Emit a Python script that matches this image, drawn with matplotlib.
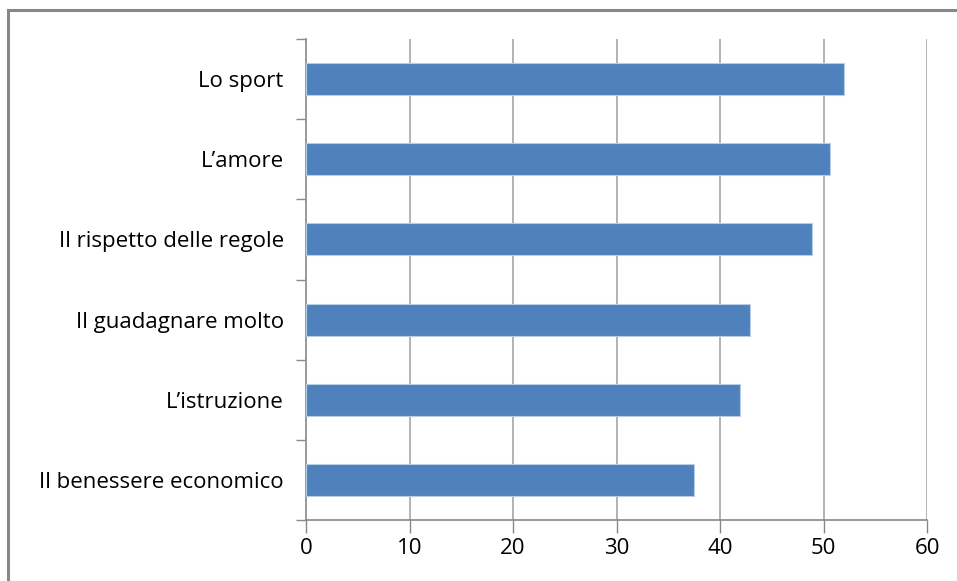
import matplotlib.pyplot as plt
import numpy as np
from matplotlib.patches import Rectangle

categories = ["Il benessere economico", "L\u2019istruzione", "Il guadagnare molto",
              "Il rispetto delle regole", "L\u2019amore", "Lo sport"]
values = [37.5, 41.9, 42.9, 48.9, 50.6, 52.0]
xticks = [0, 10, 20, 30, 40, 50, 60]

plt.rcParams['font.family'] = ['Open Sans', 'DejaVu Sans']

fig = plt.figure(figsize=(9.57, 5.81), dpi=100)
ax = fig.add_axes([306/957, 1-520/581, (927-306)/957, (520-39)/581])

# outer chart border (cropped on right/bottom)
fig.patches.append(Rectangle((8/957, -0.1), 1.2, 1-10/581+0.1, transform=fig.transFigure,
                             fill=False, edgecolor='#878787', linewidth=2.2))

y = np.arange(len(categories))
ax.barh(y, values, height=0.4, color='#4F81BD', edgecolor='#b9cde5', linewidth=0.8, zorder=3)

ax.set_xlim(0, 60)
ax.set_ylim(-0.5, len(categories)-0.5)
ax.set_xticks(xticks)
ax.set_xticklabels([str(t) for t in xticks], fontsize=16)
ax.set_yticks(y)
ax.set_yticklabels(categories, fontsize=16)
ax.set_yticks(np.arange(-0.5, len(categories)), minor=True)
ax.tick_params(axis='y', which='major', length=0, pad=16)
ax.tick_params(axis='y', which='minor', length=7, width=1, color='#888888', direction='out')
ax.tick_params(axis='x', length=9, width=1, color='#888888', pad=4)

for t in xticks[1:]:
    ax.axvline(t, color='#a6a6a6', linewidth=1.2, zorder=1)

for s in ['top', 'right']:
    ax.spines[s].set_visible(False)
for s in ['left', 'bottom']:
    ax.spines[s].set_color('#888888')
    ax.spines[s].set_linewidth(1.2)

fig.savefig('out.png', dpi=100)
